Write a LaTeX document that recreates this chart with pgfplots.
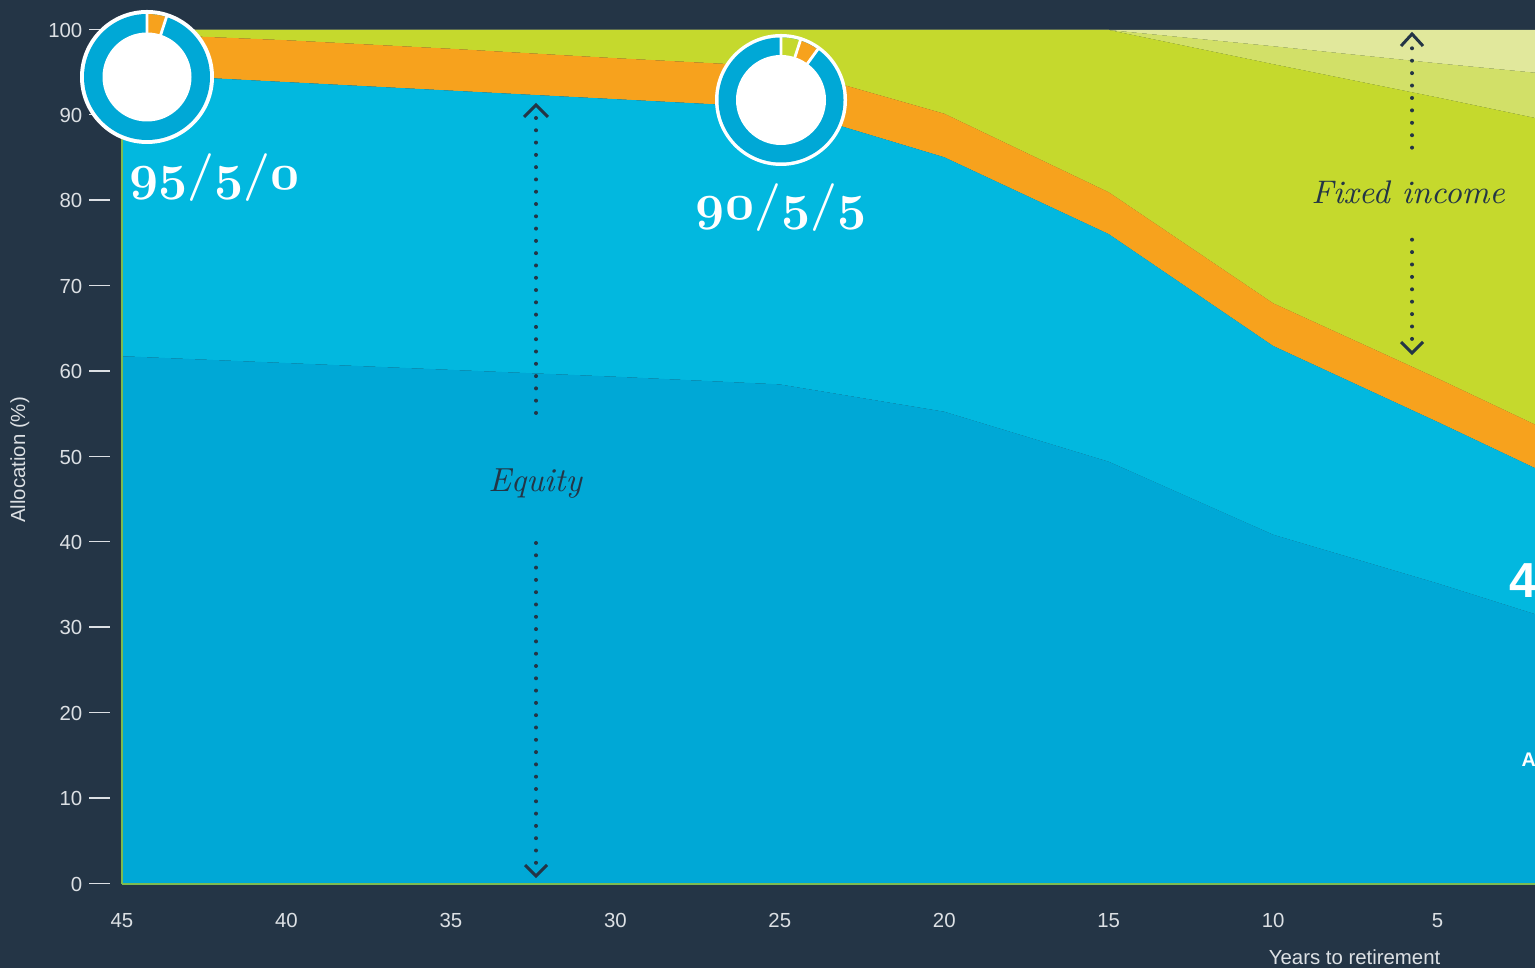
\documentclass[border=0pt]{standalone}
\usepackage{pgfplots}
\pgfplotsset{compat=1.18}
\usepackage{pgfplotstable}
\usepackage{fontspec}
\newfontfamily\lsans{Liberation Sans}
\definecolor{bgc}{HTML}{243546}
\definecolor{dblue}{HTML}{00A8D6}
\definecolor{cyanc}{HTML}{02B8DF}
\definecolor{orangec}{HTML}{F7A21D}
\definecolor{limec}{HTML}{C5D92D}
\definecolor{midc}{HTML}{D2E068}
\definecolor{lightc}{HTML}{E1E89C}
\definecolor{navyt}{HTML}{243546}
\definecolor{tickc}{HTML}{DCE0E4}
\definecolor{axisc}{HTML}{7DBB50}
\newcommand\osn[1]{{\usefont{OML}{cmm}{b}{it}#1}}

\pgfplotstableread{
x     a      b      c     d      e    f
45    61.8   33.1   4.7   0.4    0.0  0.0
40    61.0   32.9   4.9   1.2    0.0  0.0
35    60.2   32.7   4.9   2.2    0.0  0.0
30    59.4   32.5   4.8   3.3    0.0  0.0
25    58.5   32.4   4.8   4.3    0.0  0.0
20    55.3   29.8   5.1   9.8    0.0  0.0
15    49.45  26.65  4.9   19.0   0.0  0.0
10    40.9   22.1   5.0   28.0   2.1  1.9
5     35.2   18.9   5.1   32.9   4.0  3.9
2.04  31.6   17.1   5.1   35.9   5.3  5.0
}\alloc

\begin{document}
\begin{tikzpicture}
\begin{scope}[x=0.1mm,y=-0.1mm]
\fill[bgc] (0,0) rectangle (1535,968);
\end{scope}
\begin{axis}[
  at={(12.2mm,-88.4mm)}, anchor=south west,
  scale only axis, width=141.3mm, height=85.4mm,
  x dir=reverse, xmin=2.04, xmax=45, ymin=0, ymax=100,
  enlargelimits=false,
  stack plots=y,
  axis on top,
  axis x line*=bottom, axis y line*=left,
  axis line style={draw=axisc, line width=0.12mm, -},
  xtick={45,40,...,5}, ytick={0,10,...,100},
  major tick length=0pt,
  tick label style={font=\lsans\fontsize{5.8}{7}\selectfont, text=tickc},
  /pgf/number format/assume math mode=true,
  yticklabel={\pgfmathprintnumber[assume math mode=true]{\tick}\hspace{0.7mm}\rule[0.7mm]{2.1mm}{0.15mm}},
  yticklabel style={anchor=east, inner sep=0pt, xshift=-1.1mm},
  xticklabel style={anchor=base, inner sep=0pt, yshift=-4.4mm},
  xlabel={Years to retirement}, ylabel={Allocation (\%)},
  label style={font=\lsans\fontsize{5.8}{7}\selectfont, text=tickc},
  xlabel style={at={(axis description cs:0.9335,-0.0855)}, anchor=east, inner sep=0pt},
  ylabel style={at={(axis description cs:-0.0722,0.4965)}, anchor=center, inner sep=0pt},
]
\addplot[fill=dblue, draw=none, mark=none] table[x=x,y=a]{\alloc} \closedcycle;
\addplot[fill=cyanc, draw=none, mark=none] table[x=x,y=b]{\alloc} \closedcycle;
\addplot[fill=orangec, draw=none, mark=none] table[x=x,y=c]{\alloc} \closedcycle;
\addplot[fill=limec, draw=none, mark=none] table[x=x,y=d]{\alloc} \closedcycle;
\addplot[fill=midc, draw=none, mark=none] table[x=x,y=e]{\alloc} \closedcycle;
\addplot[fill=lightc, draw=none, mark=none] table[x=x,y=f]{\alloc} \closedcycle;
\end{axis}
\begin{scope}[x=0.1mm,y=-0.1mm]
% donut 1 (95/5/0)
\fill[white] (147,77) circle (67);
\fill[dblue] (147,77) circle (63);
\fill[orangec] (147,77) -- ++(-90:63) arc[start angle=-90,end angle=-72,radius=63] -- cycle;
\draw[white, line width=0.28mm] (147,77) -- ++(-90:64) (147,77) -- ++(-72:64);
\fill[white] (147,77) circle (44.5);
% donut 2 (90/5/5)
\fill[white] (781,100) circle (66);
\fill[dblue] (781,100) circle (62.5);
\fill[limec] (781,100) -- ++(-90:62.5) arc[start angle=-90,end angle=-72,radius=62.5] -- cycle;
\fill[orangec] (781,100) -- ++(-72:62.5) arc[start angle=-72,end angle=-54,radius=62.5] -- cycle;
\draw[white, line width=0.28mm] (781,100) -- ++(-90:64) (781,100) -- ++(-72:64) (781,100) -- ++(-54:64);
\fill[white] (781,100) circle (45);
% labels
\node[text=white, anchor=base, inner sep=0pt, font=\fontsize{13.6}{16}\selectfont\bfseries] at (214.5,190) {\osn{95}/\osn{5}/\osn{0}};
\node[text=white, anchor=base, inner sep=0pt, font=\fontsize{13.6}{16}\selectfont\bfseries] at (781,220) {\osn{90}/\osn{5}/\osn{5}};
\node[text=navyt, anchor=base, inner sep=0pt, font=\fontsize{9.5}{11}\selectfont\itshape] at (535,491.7) {Equity};
\node[text=navyt, anchor=base, inner sep=0pt, font=\fontsize{9.3}{11}\selectfont\itshape] at (1408,203.3) {Fixed income};
% cut-off labels at the right edge
\node[text=white, anchor=base west, inner sep=0pt, font=\lsans\fontsize{14}{16}\selectfont\bfseries] at (1509,598) {40};
\node[text=white, anchor=base west, inner sep=0pt, font=\lsans\fontsize{5.6}{7}\selectfont\bfseries] at (1521,767) {At};
% equity arrow
\foreach \i in {0,...,24} \fill[navyt] (536,{118+12.29*\i}) circle (2);
\draw[navyt, line width=0.3mm] (524,117) -- (536,105) -- (548,117);
\foreach \i in {0,...,26} \fill[navyt] (536,{543+12.3*\i}) circle (2);
\draw[navyt, line width=0.3mm] (525,865) -- (536,876) -- (547,865);
% fixed income arrow
\foreach \i in {0,...,8} \fill[navyt] (1412,{48.3+12.42*\i}) circle (2);
\draw[navyt, line width=0.3mm] (1401,46) -- (1412,34) -- (1423,46);
\foreach \i in {0,...,8} \fill[navyt] (1412,{239.7+12.4*\i}) circle (2);
\draw[navyt, line width=0.3mm] (1401,342) -- (1412,353) -- (1423,342);
\end{scope}
\pgfresetboundingbox
\path (0,0) rectangle (153.5mm,-96.8mm);
\end{tikzpicture}
\end{document}
